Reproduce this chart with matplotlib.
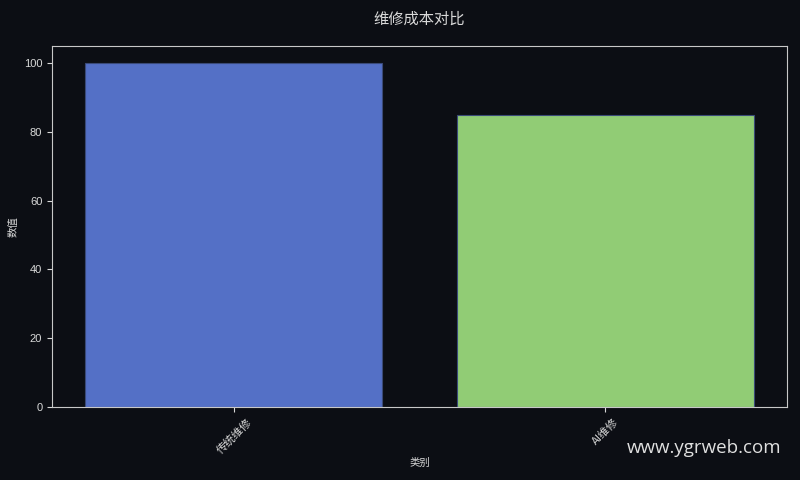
import matplotlib
matplotlib.use("Agg")
from matplotlib import pyplot as plt

categories = ['传统维修', 'AI维修']
values = [100, 85]
colors = ['#5470c6', '#91cc75']

bg = '#0c0e14'
fg = '#d9d9d9'

plt.rcParams['font.family'] = ['Liberation Sans', 'Noto Sans CJK SC', 'DejaVu Sans']

fig, ax = plt.subplots(figsize=(8, 4.8), dpi=100)
fig.patch.set_facecolor(bg)
ax.set_facecolor(bg)

ax.bar(categories, values, color=colors, width=0.8, edgecolor='#3a4a78', linewidth=0.8)

ax.set_title('维修成本对比', color=fg, fontsize=11, pad=16,
             family=['Noto Sans CJK SC', 'DejaVu Sans'])
ax.set_xlabel('类别', color=fg, fontsize=7.5, labelpad=2,
              family=['Noto Sans CJK SC', 'DejaVu Sans'])
ax.set_ylabel('数值', color=fg, fontsize=7.5, family=['Noto Sans CJK SC', 'DejaVu Sans'])
plt.xticks(rotation=45)
ax.tick_params(colors=fg, labelsize=8)
for lab in ax.get_xticklabels():
    lab.set_family(['Noto Sans CJK SC', 'DejaVu Sans'])
for sp in ax.spines.values():
    sp.set_color('#c8c8c8')

fig.subplots_adjust(left=0.065, right=0.984, top=0.904, bottom=0.153)
fig.text(0.977, 0.066, 'www.ygrweb.com', color='#e0e0e0', fontsize=13.5,
         ha='right', va='center', family='Open Sans')

fig.savefig('out.png', facecolor=bg)
